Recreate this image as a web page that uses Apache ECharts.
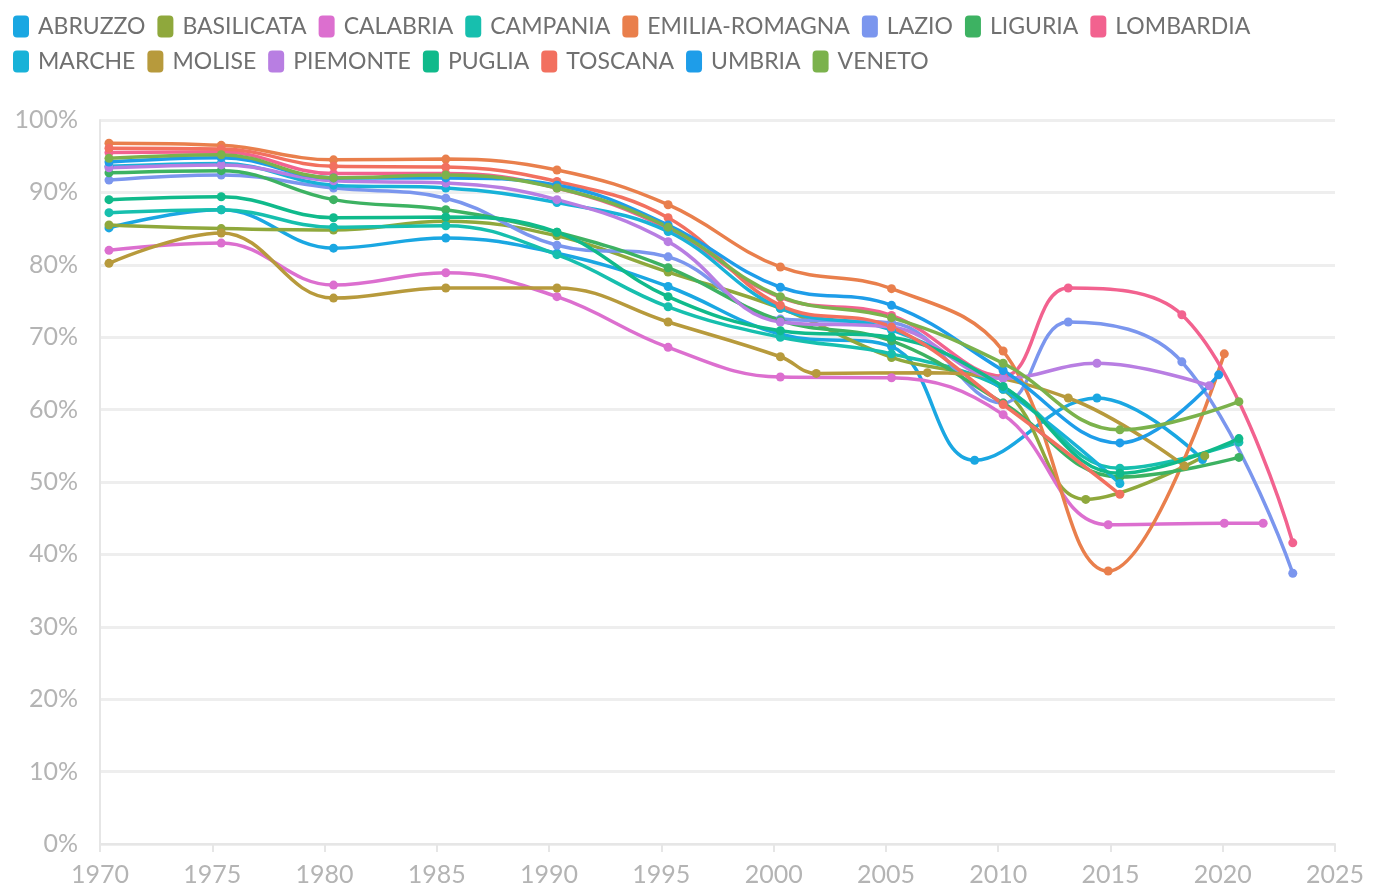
<!DOCTYPE html>
<html>
<head>
<meta charset="utf-8">
<script src="https://cdn.jsdelivr.net/npm/echarts@6/dist/echarts.min.js"></script>
<style>
html,body{margin:0;padding:0;background:#fff;}
#chart{width:1381px;height:888px;}
</style>
</head>
<body>
<div id="chart"></div>
<script>
// Election dates (fractional years) and turnout (%)
const regions = ["ABRUZZO","BASILICATA","CALABRIA","CAMPANIA","EMILIA-ROMAGNA","LAZIO","LIGURIA","LOMBARDIA","MARCHE","MOLISE","PIEMONTE","PUGLIA","TOSCANA","UMBRIA","VENETO"];
const colors = ["#1aa7e2","#8fa83c","#dc6fcf","#17bfae","#e97f4c","#7b96ee","#3db262","#f2628f","#18b2d8","#b79a3c","#b87ee2","#10ba8b","#f2705f","#1e9de9","#7bb24c"];

const abruzzoYears = [1970.4, 1975.4, 1980.4, 1985.4, 1990.35, 1995.3, 2000.3, 2005.25, 2008.95, 2014.4, 2019.1];
const abruzzoVals  = [85.1, 87.6, 82.3, 83.7, 81.6, 77.0, 70.4, 68.7, 53.0, 61.6, 53.1];

const basilicataYears = [1970.4, 1975.4, 1980.4, 1985.4, 1990.35, 1995.3, 2000.3, 2005.25, 2010.22, 2013.9, 2019.2];
const basilicataVals  = [85.5, 85.0, 84.8, 86.0, 84.0, 79.0, 74.0, 67.2, 62.8, 47.6, 53.6];

const calabriaYears = [1970.4, 1975.4, 1980.4, 1985.4, 1990.35, 1995.3, 2000.3, 2005.25, 2010.22, 2014.9, 2020.07, 2021.8];
const calabriaVals  = [82.0, 83.0, 77.2, 78.9, 75.6, 68.6, 64.5, 64.4, 59.3, 44.1, 44.3, 44.3];

const campaniaYears = [1970.4, 1975.4, 1980.4, 1985.4, 1990.35, 1995.3, 2000.3, 2005.25, 2010.22, 2015.42, 2020.72];
const campaniaVals  = [87.2, 87.6, 85.2, 85.4, 81.4, 74.2, 70.0, 67.7, 63.0, 51.9, 55.5];

const emiliaYears = [1970.4, 1975.4, 1980.4, 1985.4, 1990.35, 1995.3, 2000.3, 2005.25, 2010.22, 2014.9, 2020.07];
const emiliaVals  = [96.8, 96.5, 94.5, 94.6, 93.1, 88.3, 79.7, 76.7, 68.1, 37.7, 67.7];

const lazioYears = [1970.4, 1975.4, 1980.4, 1985.4, 1990.35, 1995.3, 2000.3, 2005.25, 2010.22, 2013.12, 2018.18, 2023.12];
const lazioVals  = [91.7, 92.4, 90.6, 89.2, 82.7, 81.1, 72.5, 72.0, 60.9, 72.1, 66.6, 37.4];

const liguriaYears = [1970.4, 1975.4, 1980.4, 1985.4, 1990.35, 1995.3, 2000.3, 2005.25, 2010.22, 2015.42, 2020.72];
const liguriaVals  = [92.7, 93.0, 89.0, 87.6, 84.5, 79.6, 72.3, 69.5, 60.9, 50.7, 53.4];

const lombardiaYears = [1970.4, 1975.4, 1980.4, 1985.4, 1990.35, 1995.3, 2000.3, 2005.25, 2010.22, 2013.12, 2018.18, 2023.12];
const lombardiaVals  = [95.5, 95.6, 92.6, 92.6, 90.6, 85.0, 75.5, 73.0, 64.6, 76.8, 73.1, 41.6];

const marcheYears = [1970.4, 1975.4, 1980.4, 1985.4, 1990.35, 1995.3, 2000.3, 2005.25, 2010.22, 2015.42];
const marcheVals  = [93.6, 94.0, 91.0, 90.6, 88.6, 84.6, 74.0, 71.0, 62.8, 49.8];

const moliseYears = [1970.4, 1975.4, 1980.4, 1985.4, 1990.35, 1995.3, 2000.3, 2001.9, 2006.85, 2013.12, 2018.3];
const moliseVals  = [80.2, 84.4, 75.4, 76.8, 76.8, 72.1, 67.3, 65.0, 65.1, 61.6, 52.2];

const piemonteYears = [1970.4, 1975.4, 1980.4, 1985.4, 1990.35, 1995.3, 2000.3, 2005.25, 2010.22, 2014.4, 2019.4];
const piemonteVals  = [93.4, 93.8, 91.6, 91.3, 89.0, 83.2, 72.1, 71.4, 64.3, 66.4, 63.3];

const pugliaYears = [1970.4, 1975.4, 1980.4, 1985.4, 1990.35, 1995.3, 2000.3, 2005.25, 2010.22, 2015.42, 2020.72];
const pugliaVals  = [89.0, 89.4, 86.5, 86.6, 84.5, 75.6, 70.9, 70.0, 63.2, 51.2, 56.0];

const toscanaYears = [1970.4, 1975.4, 1980.4, 1985.4, 1990.35, 1995.3, 2000.3, 2005.25, 2010.22, 2015.42];
const toscanaVals  = [96.1, 96.0, 93.6, 93.5, 91.5, 86.5, 74.4, 71.4, 60.7, 48.3];

const umbriaYears = [1970.4, 1975.4, 1980.4, 1985.4, 1990.35, 1995.3, 2000.3, 2005.25, 2010.22, 2015.42, 2019.82];
const umbriaVals  = [94.2, 94.8, 92.0, 92.0, 91.0, 85.5, 76.9, 74.4, 65.4, 55.4, 64.8];

const venetoYears = [1970.4, 1975.4, 1980.4, 1985.4, 1990.35, 1995.3, 2000.3, 2005.25, 2010.22, 2015.42, 2020.72];
const venetoVals  = [94.7, 95.2, 92.0, 92.4, 90.6, 85.2, 75.6, 72.7, 66.4, 57.2, 61.1];

const seriesYears = [abruzzoYears, basilicataYears, calabriaYears, campaniaYears, emiliaYears, lazioYears, liguriaYears, lombardiaYears, marcheYears, moliseYears, piemonteYears, pugliaYears, toscanaYears, umbriaYears, venetoYears];
const seriesVals = [abruzzoVals, basilicataVals, calabriaVals, campaniaVals, emiliaVals, lazioVals, liguriaVals, lombardiaVals, marcheVals, moliseVals, piemonteVals, pugliaVals, toscanaVals, umbriaVals, venetoVals];

const xTicks = [1970, 2025, 5];
const yTicks = [0, 100, 10];

const chart = echarts.init(document.getElementById('chart'), null, {renderer: 'canvas'});
const FONT = 'Lato, "Open Sans", sans-serif';

const series = regions.map((name, i) => ({
  name: name,
  type: 'line',
  smooth: 0.4,
  symbol: 'circle',
  symbolSize: 9,
  lineStyle: {width: 3.5, color: colors[i]},
  itemStyle: {color: colors[i]},
  emphasis: {disabled: true},
  data: seriesYears[i].map((y, j) => [y, seriesVals[i][j]])
}));

chart.setOption({
  animation: false,
  color: colors,
  legend: {
    left: 8,
    top: 10,
    width: 1330,
    icon: 'roundRect',
    itemWidth: 16,
    itemHeight: 22,
    itemGap: 12,
    textStyle: {fontFamily: FONT, fontSize: 23, color: '#707070', padding: [0, 4, 0, 4]},
    data: regions
  },
  grid: {left: 100, right: 46, top: 120, bottom: 44, containLabel: false},
  xAxis: {
    type: 'value',
    min: xTicks[0], max: xTicks[1], interval: xTicks[2],
    axisLine: {show: true, lineStyle: {color: '#e6e6e6', width: 2}},
    axisTick: {show: true, length: 8, lineStyle: {color: '#e6e6e6', width: 2}},
    splitLine: {show: false},
    axisLabel: {fontFamily: FONT, fontSize: 25, color: '#b4b4b4', margin: 18, formatter: v => String(v)}
  },
  yAxis: {
    type: 'value',
    min: yTicks[0], max: yTicks[1], interval: yTicks[2],
    axisLine: {show: true, lineStyle: {color: '#e6e6e6', width: 2}},
    axisTick: {show: false},
    splitLine: {show: true, lineStyle: {color: '#eeeeee', width: 3}},
    axisLabel: {fontFamily: FONT, fontSize: 25, color: '#b4b4b4', margin: 22, formatter: v => v + '%'}
  },
  series: series
});
</script>
</body>
</html>
